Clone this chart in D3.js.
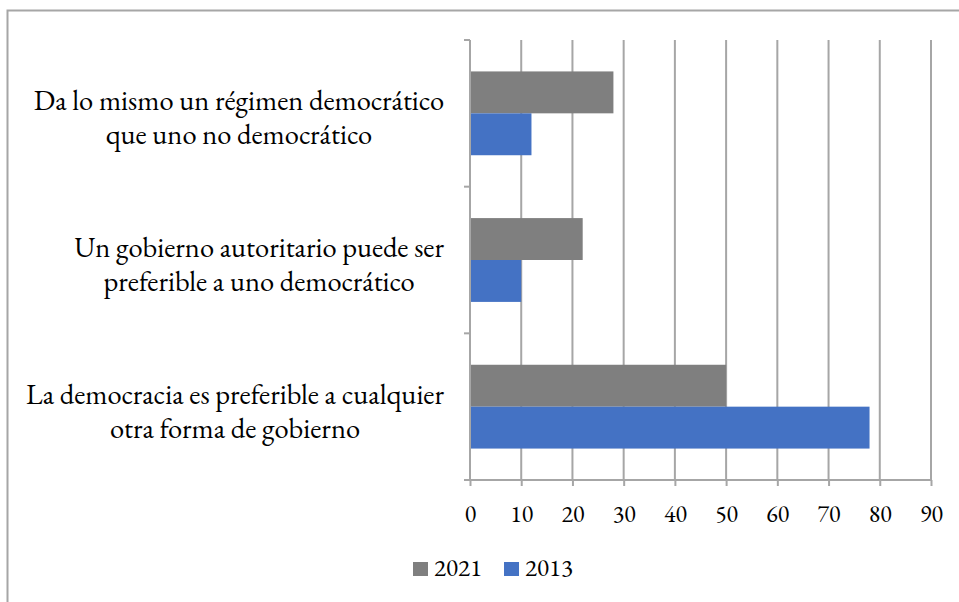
<!DOCTYPE html>
<html>
<head>
<meta charset="utf-8">
<script src="https://cdn.jsdelivr.net/npm/d3@7"></script>
<style>
  body { margin: 0; background: #fff; }
</style>
</head>
<body>
<div id="chart"></div>
<script>
// data
var categories = [
  ["Da lo mismo un régimen democrático", "que uno no democrático"],
  ["Un gobierno autoritario puede ser", "preferible a uno democrático"],
  ["La democracia es preferible a cualquier", "otra forma de gobierno"]
];
var seriesNames = ["2021", "2013"];
var values2021 = [28, 22, 50];
var values2013 = [12, 10, 78];
var xTicks = [0, 10, 20, 30, 40, 50, 60, 70, 80, 90];
var colors = ["#7f7f7f", "#4472c4"];

var FONT = "'EB Garamond'";

var svgWidth = 959;
var svgHeight = 602;

var margin = { top: 40, right: 28, bottom: 122, left: 470 };
var width = svgWidth - margin.left - margin.right;
var height = svgHeight - margin.top - margin.bottom;

var svg = d3.select("#chart")
  .append("svg")
  .attr("width", svgWidth)
  .attr("height", svgHeight);

// pick a font size so that a string takes a given width
function fitSize(str, target) {
  var t = svg.append("text").style("font-family", FONT).style("font-size", "100px").text(str);
  var w = t.node().getComputedTextLength();
  t.remove();
  return 100 * target / w;
}
var labelSize = fitSize(categories[2][0], 418);
var tickSize = fitSize("10", 23);
var legendSize = fitSize("2021", 48);

// outer frame
svg.append("rect")
  .attr("x", 7.5)
  .attr("y", 10.5)
  .attr("width", 960)
  .attr("height", 600)
  .attr("fill", "none")
  .attr("stroke", "#a6a6a6")
  .attr("stroke-width", 2);

var chartGroup = svg.append("g")
  .attr("transform", `translate(${margin.left}, ${margin.top})`);

var xScale = d3.scaleLinear()
  .domain([0, 90])
  .range([0, 461]);

var yScale = d3.scaleBand()
  .domain(d3.range(categories.length))
  .range([0, height]);

var inner = d3.scaleBand()
  .domain(seriesNames)
  .range([0, yScale.bandwidth()])
  .paddingInner(0)
  .paddingOuter(0.75);

// vertical gridlines
chartGroup.append("g")
  .selectAll("line")
  .data(xTicks)
  .enter()
  .append("line")
  .attr("x1", d => xScale(d))
  .attr("x2", d => xScale(d))
  .attr("y1", 0)
  .attr("y2", height)
  .attr("stroke", "#a6a6a6")
  .attr("stroke-width", 2);

// bars
var rows = categories.map((c, i) => ({ i: i, vals: [values2021[i], values2013[i]] }));

var groups = chartGroup.selectAll(".cat")
  .data(rows)
  .enter()
  .append("g")
  .attr("class", "cat")
  .attr("transform", d => `translate(0, ${yScale(d.i)})`);

groups.selectAll("rect")
  .data(d => d.vals.map((v, j) => ({ name: seriesNames[j], v: v, j: j })))
  .enter()
  .append("rect")
  .attr("x", 0)
  .attr("y", d => inner(d.name))
  .attr("width", d => xScale(d.v))
  .attr("height", inner.bandwidth())
  .attr("fill", d => colors[d.j]);

// y axis line with ticks between categories
var yTickVals = d3.range(categories.length + 1).map(i => i * yScale.step());
chartGroup.append("line")
  .attr("x1", 0).attr("x2", 0)
  .attr("y1", 0).attr("y2", height)
  .attr("stroke", "#a6a6a6").attr("stroke-width", 2);
chartGroup.append("g")
  .selectAll("line")
  .data(yTickVals)
  .enter()
  .append("line")
  .attr("x1", -6).attr("x2", 0)
  .attr("y1", d => d).attr("y2", d => d)
  .attr("stroke", "#a6a6a6").attr("stroke-width", 2);

// x axis
var bottomAxis = d3.axisBottom(xScale)
  .tickValues(xTicks)
  .tickSize(6);

var xAxis = chartGroup.append("g")
  .attr("transform", `translate(0, ${height})`)
  .call(bottomAxis);
xAxis.select(".domain")
  .attr("d", `M-6,0H${xScale(90)}`)
  .attr("stroke", "#a6a6a6").attr("stroke-width", 2);
xAxis.selectAll(".tick line").attr("stroke", "#a6a6a6").attr("stroke-width", 2);
xAxis.selectAll(".tick text")
  .attr("y", 42)
  .attr("dy", 0)
  .attr("fill", "#000")
  .style("font-family", FONT)
  .style("font-size", tickSize + "px");

// category labels: two centred lines per category,
// block right-aligned next to the axis
var labelGroup = chartGroup.append("g");
categories.forEach(function(lines, i) {
  var cy = yScale(i) + yScale.bandwidth() / 2;
  var texts = lines.map(function(line, k) {
    return labelGroup.append("text")
      .attr("y", cy - 3 + k * 34)
      .attr("text-anchor", "middle")
      .attr("fill", "#000")
      .style("font-family", FONT)
      .style("font-size", labelSize + "px")
      .text(line);
  });
  var maxW = d3.max(texts, t => t.node().getComputedTextLength());
  texts.forEach(t => t.attr("x", -26 - maxW / 2));
});

// legend
var legend = svg.append("g")
  .attr("transform", "translate(413, 562)");
var lx = 0;
seriesNames.forEach(function(name, j) {
  legend.append("rect")
    .attr("x", lx).attr("y", 0)
    .attr("width", 15).attr("height", 14)
    .attr("fill", colors[j]);
  var t = legend.append("text")
    .attr("x", lx + 21)
    .attr("y", 14)
    .attr("fill", "#000")
    .style("font-family", FONT)
    .style("font-size", legendSize + "px")
    .text(name);
  lx += 21 + t.node().getComputedTextLength() + 22;
});
</script>
</body>
</html>
